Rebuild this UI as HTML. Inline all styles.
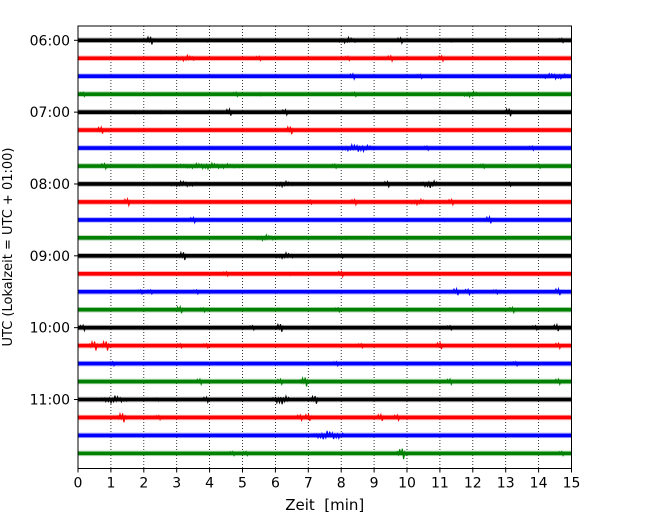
<!DOCTYPE html>
<html><head><meta charset="utf-8"><style>
body{margin:0;background:#fff}
svg text{font-family:"DejaVu Sans","Liberation Sans",sans-serif;fill:#000}
</style></head><body>
<svg id="c" width="650" height="520"><defs><clipPath id="clip"><rect x="78" y="26" width="493.5" height="442.5"/></clipPath></defs></svg>
<script>
const minuteTicks=[0,1,2,3,4,5,6,7,8,9,10,11,12,13,14,15];
const hourLabels=["06:00","07:00","08:00","09:00","10:00","11:00"];
const traceCount=24;
const traceColors=["#000000","#ff0000","#0000ff","#008000"];
// per-trace bursts: [startMin, endMin, halfAmplitude]
const events=[
[[2.2,2.2,6],[3.9,3.9,2],[7.9,8.5,3],[9.8,9.8,4],[11.3,11.3,2],[14.7,14.7,3]],
[[3.0,3.6,3],[5.5,5.5,3],[8.2,8.2,3],[9.5,9.5,4],[11.05,11.05,4]],
[[8.35,8.35,4],[10.4,10.4,3],[14.0,15.0,3]],
[[0.15,0.15,3],[4.8,4.8,3],[5.5,5.5,2],[8.4,8.4,3],[11.7,12.2,3]],
[[1.7,1.7,2],[2.5,2.5,2],[4.6,4.6,5],[6.3,6.3,4],[13.1,13.1,6]],
[[0.7,0.7,5],[6.45,6.45,6]],
[[8.0,9.0,4],[10.6,10.6,3],[13.8,13.8,3]],
[[0.8,0.8,4],[2.8,5.1,3],[7.8,7.8,3],[12.3,12.3,3],[14.0,14.0,3]],
[[2.8,3.6,3],[6.0,6.5,3],[9.4,9.4,4],[10.5,10.9,4],[13.1,13.1,3]],
[[1.5,1.5,5],[7.05,7.05,3],[8.4,8.4,4],[10.1,10.6,3],[11.35,11.35,4]],
[[3.5,3.5,4],[11.1,11.1,2],[12.5,12.5,5]],
[[5.4,6.0,3],[8.1,8.1,2]],
[[3.2,3.2,6],[6.0,6.6,3],[8.0,8.0,3],[12.0,12.0,2]],
[[4.5,4.5,3],[6.4,6.4,2],[8.0,8.0,4]],
[[1.9,1.9,3],[2.2,2.2,3],[3.6,3.6,3],[11.5,11.5,5],[11.85,11.85,4],[12.7,12.7,3],[14.6,14.6,5]],
[[3.1,3.1,5],[3.8,3.8,3],[7.9,7.9,3],[13.2,13.2,4]],
[[0.15,0.15,4],[5.3,5.3,3],[6.15,6.15,6],[11.3,11.3,3],[13.9,13.9,3],[14.55,14.55,5]],
[[0.5,0.5,7],[0.85,0.85,7],[3.1,3.1,3],[3.9,3.9,3],[8.6,8.6,3],[11.0,11.0,5],[14.6,14.6,4]],
[[1.05,1.05,3],[7.85,7.85,3],[13.3,13.3,3]],
[[3.7,3.7,4],[6.15,6.15,4],[6.9,6.9,7],[11.3,11.3,4],[14.6,14.6,4]],
[[0.8,1.4,4],[2.4,2.4,2],[3.9,3.9,4],[6.0,6.35,5],[7.2,7.2,6]],
[[1.35,1.35,7],[2.45,2.45,3],[6.75,6.75,4],[7.0,7.0,5],[9.2,9.2,5],[9.7,9.7,4]],
[[7.25,8.0,5]],
[[4.7,4.7,3],[5.1,5.1,3],[9.85,9.85,8],[14.7,14.7,3]]
];
const L=78,R=571.5,T=26,B=468.5,Y0=40.3,DY=17.96;
const xS=m=>L+(m/15)*(R-L);
const yS=i=>Y0+i*DY;
const svg=document.getElementById('c');
const NS='http://www.w3.org/2000/svg';
function mk(t,a,p){const e=document.createElementNS(NS,t);for(const k in a)e.setAttribute(k,a[k]);(p||svg).appendChild(e);return e;}
const wiggle=[1,0.35,0.8,0.2,0.6,0.9,0.3,0.7,0.45,1,0.25,0.55];
minuteTicks.forEach(m=>{
 if(m>0&&m<15){const g=mk('line',{x1:xS(m),x2:xS(m),y1:T,y2:B,stroke:'#000','stroke-width':0.8,'stroke-dasharray':'1,2'});
 
 }
 const t=mk('line',{x1:xS(m),x2:xS(m),y1:B,y2:B+4,stroke:'#000','stroke-width':1});
 
 
 const l=mk('text',{x:xS(m),y:B+19,'text-anchor':'middle','font-size':14});l.textContent=m;
 
 
});
for(let i=0;i<traceCount;i++){
 const y=yS(i),c=traceColors[i%4];
 const g=mk('g',{'clip-path':'url(#clip)'});
 
 
 mk('line',{x1:L,x2:R,y1:y,y2:y,stroke:c,'stroke-width':5.5,'stroke-opacity':0.3},g);
 mk('line',{x1:L,x2:R,y1:y,y2:y,stroke:c,'stroke-width':3.6},g);
 events[i].forEach(ev=>{
  const x0=xS(ev[0])-5,x1=xS(ev[1])+5,a=ev[2];
  let pts=[],k=0;
  for(let x=x0;x<=x1;x+=1.3,k++){
   const mid=(x0+x1)/2,half=(x1-x0)/2;
   const env=Math.max(0.3,1-Math.abs(x-mid)/half*0.75);
   pts.push(x.toFixed(1)+','+(y+(k%2?1:-1)*a*env*wiggle[k%wiggle.length]).toFixed(1));
  }
  const p=mk('polyline',{points:pts.join(' '),fill:'none',stroke:c,'stroke-width':1.1},g);
  
  
 });
}
hourLabels.forEach((h,j)=>{
 const y=yS(j*4);
 const t=mk('line',{x1:L-4,x2:L,y1:y,y2:y,stroke:'#000','stroke-width':1});
 
 
 const l=mk('text',{x:L-8,y:y+5,'text-anchor':'end','font-size':14});l.textContent=h;
 
 
});
const fr=mk('rect',{x:L,y:T,width:R-L,height:B-T,fill:'none',stroke:'#000','stroke-width':1});


const xt=mk('text',{x:(L+R)/2,y:510,'text-anchor':'middle','font-size':15});xt.textContent='Zeit\u00a0\u00a0[min]';


const yt=mk('text',{x:0,y:0,'text-anchor':'middle','font-size':13,transform:'translate(12,247) rotate(-90)'});yt.textContent='UTC (Lokalzeit = UTC + 01:00)';


</script>
</body></html>
